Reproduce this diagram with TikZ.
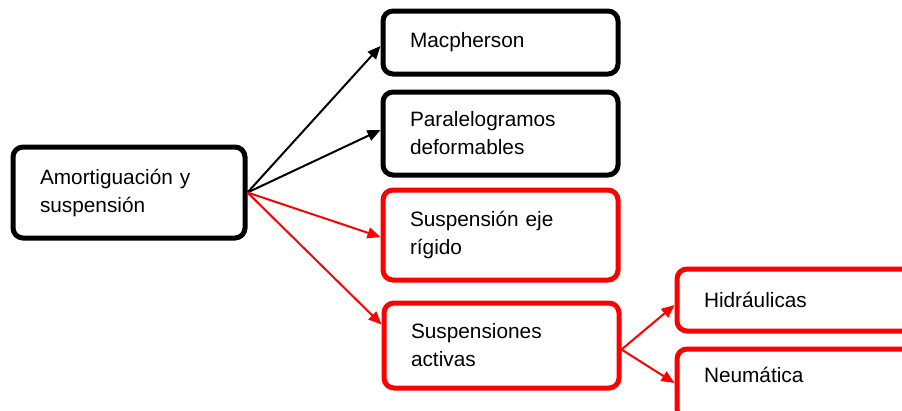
\documentclass[tikz,border=0pt]{standalone}
\usepackage{fontspec}
\setmainfont{Liberation Sans}
\usetikzlibrary{arrows.meta}
\begin{document}
\begin{tikzpicture}[x=1pt,y=-1pt,
  box/.style={draw=#1,line width=5pt,rounded corners=10pt,rectangle,fill=white,
    inner sep=0pt,align=left,font=\fontsize{20.8}{28}\selectfont},
  rbox/.style={box=black,minimum width=235pt,text width=181pt},
  link/.style={draw=#1,line width=2pt,-{Triangle[length=13pt,width=11pt]}}]
\clip (0,0) rectangle (902,410);
\fill[white] (0,0) rectangle (902,410);
\node[box=black,minimum width=232pt,minimum height=91pt,text width=178pt] (main) at (129,192.5) {Amortiguación y\\suspensión};
\node[rbox,draw=black,minimum height=63pt] (mac) at (500.5,42.5) {Macpherson};
\node[rbox,draw=black,minimum height=83pt] (para) at (500.5,133.5) {Paralelogramos\\deformables};
\node[rbox,draw=red,minimum height=90pt] (eje) at (500.5,235) {Suspensión eje\\rígido};
\node[rbox,draw=red,minimum height=85pt] (act) at (501.5,345.5) {Suspensiones\\activas};
\node[box=red,minimum width=273pt,minimum height=62pt,text width=219pt] (hid) at (813.5,300) {Hidráulicas};
\node[box=red,minimum width=273pt,minimum height=70pt,text width=219pt,text depth=18pt] (neu) at (813.5,384) {Neumática};
\draw[link=black] (main.east) -- ([yshift=-3.5pt]mac.west);
\draw[link=black] (main.east) -- ([yshift=3.5pt]para.west);
\draw[link=red] (main.east) -- ([yshift=-2pt]eje.west);
\draw[link=red] (main.east) -- ([yshift=21pt]act.west);
\draw[link=red] ([yshift=-4pt]act.east) -- ([yshift=-5pt]hid.west);
\draw[link=red] ([yshift=-4pt]act.east) -- ([yshift=1pt]neu.west);
\end{tikzpicture}
\end{document}
